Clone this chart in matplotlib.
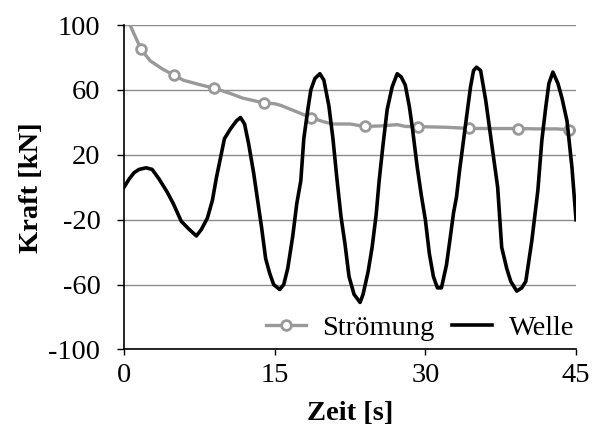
import numpy as np
import matplotlib
matplotlib.use('Agg')
import matplotlib.pyplot as plt

# Strömung (gray, circle markers)
stroem_t = [0.3, 0.6, 1.7, 2.6, 3.8, 5.0, 5.9, 7.4, 9.0, 10.5, 11.8, 13.9,
            15.0, 15.6, 17.0, 18.6, 19.8, 20.8, 22.5, 24.0, 25.5, 27.2,
            28.0, 29.3, 32.0, 34.3, 36.5, 39.2, 41.0, 43.0, 44.3, 45.0]
stroem_f = [115, 100, 85, 78, 73, 69, 66, 63.5, 61, 58, 55, 52,
            51.5, 50.5, 47, 43, 40.5, 39, 39, 37.5, 37.8, 38.6,
            37.5, 37.4, 37, 36.3, 36.2, 36.2, 36, 36, 35.5, 35]
stroem_marks = [2, 5, 8, 11, 15, 19, 23, 25, 27, 30]

# Welle (black)
welle_t = [0, 0.5, 1.0, 1.5, 2.2, 2.8, 3.5, 4.3, 4.9, 5.7, 6.5, 7.2, 7.7,
           8.3, 8.8, 9.2, 9.6, 10.0, 10.6, 11.2, 11.6, 12.0, 12.4, 12.9,
           13.3, 13.7, 14.1, 14.5, 14.9, 15.5, 15.9, 16.3, 16.8, 17.2,
           17.6, 17.9, 18.3, 18.6, 19.0, 19.5, 19.9, 20.4, 20.8, 21.2,
           21.6, 22.0, 22.4, 22.9, 23.5, 23.8, 24.3, 24.7, 25.1, 25.4,
           25.8, 26.2, 26.7, 27.2, 27.6, 28.0, 28.4, 28.7, 29.2, 29.6,
           30.0, 30.4, 30.8, 31.2, 31.6, 32.1, 32.5, 32.8, 33.1, 33.4,
           33.8, 34.2, 34.5, 34.8, 35.1, 35.5, 36.0, 36.6, 37.2, 37.6,
           38.1, 38.5, 39.1, 39.6, 40.0, 40.6, 41.2, 41.6, 42.0, 42.3,
           42.7, 43.2, 43.6, 44.1, 44.6, 45.0]
welle_f = [0, 5, 9, 11, 12, 11, 5, -3, -10, -21, -26, -30, -26,
           -19, -8, 6, 18, 30, 36, 41, 43, 39, 27, 9,
           -8, -25, -44, -53, -60, -63, -60, -50, -30, -10,
           4, 30, 48, 60, 67, 70, 66, 50, 30, 5,
           -18, -35, -55, -66, -71, -66, -52, -37, -17, 4,
           27, 48, 62, 70, 68, 63, 50, 37, 12, -5,
           -20, -41, -55, -62, -62, -48, -30, -16, -6, 10,
           29, 48, 62, 72, 74, 72, 54, 27, 0, -37,
           -50, -58, -64, -62, -58, -33, -2, 29, 50, 64,
           71, 64, 55, 41, 12, -20]

x_ticks = [0, 15, 30, 45]
y_ticks = [-100, -60, -20, 20, 60, 100]

plt.rcParams['font.family'] = ['Liberation Serif', 'DejaVu Serif']
plt.rcParams['font.size'] = 20.5
plt.rcParams['axes.unicode_minus'] = False

fig = plt.figure(figsize=(5.92, 4.32), dpi=100)
ax = fig.add_axes([0.2095, 0.191, 0.7635, 0.751])

ax.plot(stroem_t, stroem_f, color='#999999', lw=2.4, marker='o',
        markevery=stroem_marks, markersize=7, markerfacecolor='white',
        markeredgecolor='#999999', markeredgewidth=2, label='Strömung',
        solid_joinstyle='round', zorder=3)
ax.plot(welle_t, welle_f, color='black', lw=2.6, label='Welle',
        solid_joinstyle='round', zorder=4)

ax.set_xlim(0, 45)
ax.set_ylim(-100, 100)
ax.set_xticks(x_ticks)
ax.set_yticks(y_ticks)
ax.grid(axis='y', color='#8c8c8c', lw=1)
ax.set_axisbelow(True)

for side in ['top', 'right']:
    ax.spines[side].set_visible(False)
for side in ['left', 'bottom']:
    ax.spines[side].set_linewidth(1.2)
ax.tick_params(axis='x', direction='out', length=4, width=1, pad=6)
ax.tick_params(axis='y', direction='out', length=5, width=1, pad=12)

ax.set_xlabel('Zeit [s]', fontweight='bold', labelpad=9)
ax.set_ylabel('Kraft [kN]', fontweight='bold', labelpad=3)

ax.legend(loc='lower right', bbox_to_anchor=(1.015, 0), ncol=2,
          frameon=False, handlelength=1.4, handletextpad=0.6,
          columnspacing=0.6, borderaxespad=0.1, borderpad=0.2)

fig.savefig('out.png', dpi=100)
